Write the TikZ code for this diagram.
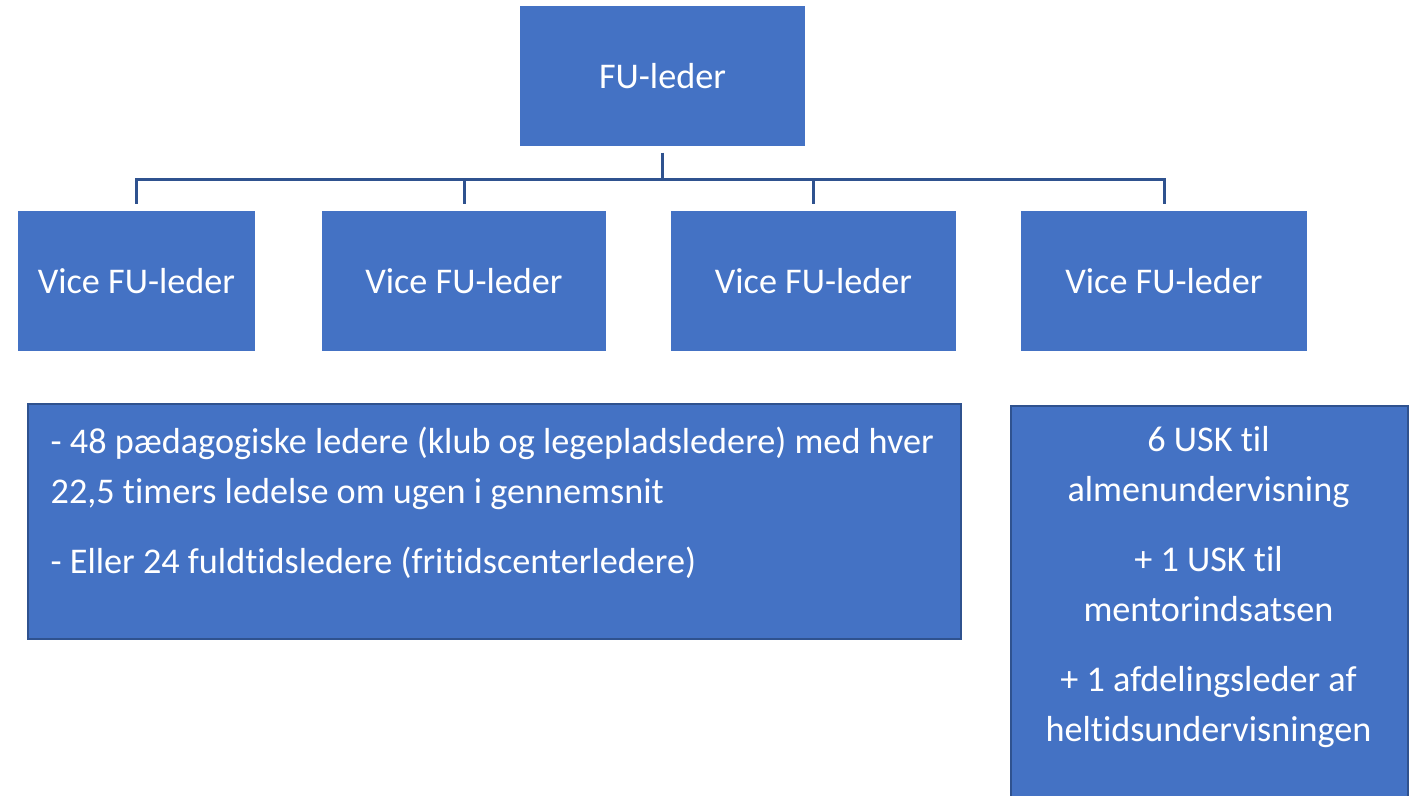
\documentclass[tikz,border=0pt]{standalone}
\usepackage{fontspec}
\setmainfont{Carlito}[Ligatures=CommonOff]
\usetikzlibrary{positioning}
\definecolor{boxblue}{HTML}{4472C4}
\definecolor{lineblue}{HTML}{2F528F}

\begin{document}
\begin{tikzpicture}[x=0.1mm, y=-0.1mm,
    every node/.style={font=\fontsize{10.3}{14.2}\selectfont, text=white},
    leaderbox/.style={rectangle, fill=boxblue, minimum width=28.5mm, minimum height=14mm, inner sep=0pt},
    infobox/.style={rectangle, fill=boxblue, draw=lineblue, line width=0.2mm, inner sep=0pt, anchor=north west},
    conn/.style={draw=lineblue, line width=0.3mm, shorten <=6*0.1mm}]
        \useasboundingbox (0,0) rectangle (1415,796);

        % top of the tree
        \node[leaderbox] (fu) at (662.5,76) {FU-leder};

        \node[leaderbox, minimum width=23.7mm] (v1) at (136.5,281) {Vice FU-leder};
        \node[leaderbox, minimum width=28.4mm] (v2) at (464,281) {Vice FU-leder};
        \node[leaderbox] (v3) at (813.5,281) {Vice FU-leder};
        \node[leaderbox, minimum width=28.6mm] (v4) at (1164,281) {Vice FU-leder};

        \coordinate (bus) at (662.5,179);
        \draw[conn] (fu.south) -- (bus);
        \foreach \v in {v1,v2,v3,v4}
            \draw[conn, shorten <=0pt, shorten >=6*0.1mm] (bus) -| (\v.north);

        % boxes below
        \node[infobox, minimum width=93.3mm, minimum height=23.5mm] (fritid) at (27,403) {};
        \node[anchor=north west, align=left, inner sep=0pt] (fritidtxt) at (50,426)
            {- 48 pædagogiske ledere (klub og legepladsledere) med hver\\
             22,5 timers ledelse om ugen i gennemsnit\\[5.7pt]
             - Eller 24 fuldtidsledere (fritidscenterledere)};

        \node[infobox, minimum width=39.7mm, minimum height=40mm] (usk) at (1010,405) {};
        \node[anchor=north, align=center, inner sep=0pt] (usktxt) at (1208.5,426)
            {6 USK til\\ almenundervisning\\[5.7pt]
             + 1 USK til\\ mentorindsatsen\\[5.7pt]
             + 1 afdelingsleder af\\ heltidsundervisningen};
\end{tikzpicture}
\end{document}
